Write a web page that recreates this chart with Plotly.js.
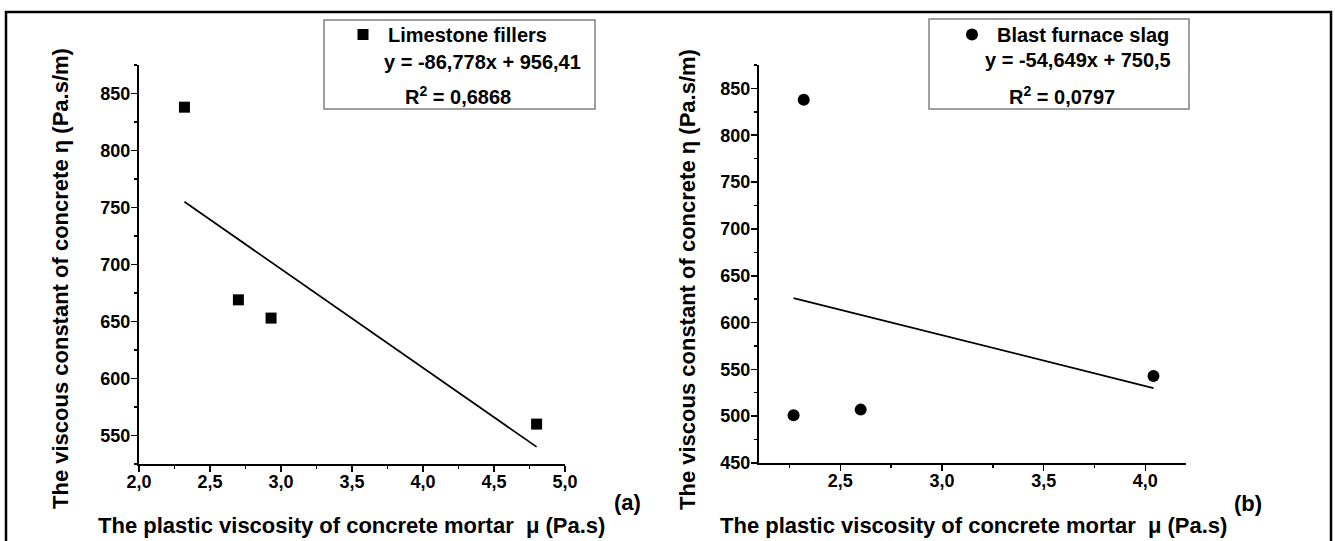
<!DOCTYPE html>
<html>
<head>
<meta charset="utf-8">
<script src="https://cdn.plot.ly/plotly-3.0.1.min.js"></script>
<style>html,body{margin:0;padding:0;background:#fff;}#chart{width:1335px;height:541px;}</style>
</head>
<body>
<div id="chart"></div>
<script>
// ---- data ----
const limeX = [2.32, 2.70, 2.93, 4.80];
const limeY = [838, 669, 653, 560];
const limeFitX = [2.32, 4.80];
const limeFitY = [755, 540];

const slagX = [2.27, 2.32, 2.60, 4.04];
const slagY = [501, 838, 507, 543];
const slagFitX = [2.27, 4.04];
const slagFitY = [626, 530];

// tick values and labels
const xTicksA = [2.0, 2.5, 3.0, 3.5, 4.0, 4.5, 5.0];
const xLabelsA = ['2,0', '2,5', '3,0', '3,5', '4,0', '4,5', '5,0'];
const yTicksA = [550, 600, 650, 700, 750, 800, 850];
const yLabelsA = ['550', '600', '650', '700', '750', '800', '850'];
const xTicksB = [2.5, 3.0, 3.5, 4.0];
const xLabelsB = ['2,5', '3,0', '3,5', '4,0'];
const yTicksB = [450, 500, 550, 600, 650, 700, 750, 800, 850];
const yLabelsB = ['450', '500', '550', '600', '650', '700', '750', '800', '850'];

const limeName = 'Limestone fillers';
const slagName = 'Blast furnace slag';
const limeEq = 'y = -86,778x + 956,41';
const limeR2 = 'R<sup>2</sup> = 0,6868';
const slagEq = 'y = -54,649x + 750,5';
const slagR2 = 'R<sup>2</sup> = 0,0797';
const xTitle = 'The plastic viscosity of concrete mortar  \u03bc (Pa.s)';
const yTitle = 'The viscous constant of concrete \u03b7 (Pa.s/m)';

// ---- layout helpers (pixel -> paper, margins are zero) ----
const W = 1335, H = 541;
const px = v => v / W;
const py = v => 1 - v / H;
const FAM = 'Liberation Sans, Arial, Helvetica, sans-serif';
const fnt = s => ({family: FAM, size: s, color: '#000', weight: 700});

const traces = [
  {x: limeX, y: limeY, type: 'scatter', mode: 'markers', name: limeName,
   marker: {symbol: 'square', size: 11, color: '#000'}, xaxis: 'x', yaxis: 'y', legend: 'legend'},
  {x: limeFitX, y: limeFitY, type: 'scatter', mode: 'lines', showlegend: false,
   line: {color: '#000', width: 1.7}, xaxis: 'x', yaxis: 'y'},
  {x: slagX, y: slagY, type: 'scatter', mode: 'markers', name: slagName,
   marker: {symbol: 'circle', size: 12, color: '#000'}, xaxis: 'x2', yaxis: 'y2', legend: 'legend2'},
  {x: slagFitX, y: slagFitY, type: 'scatter', mode: 'lines', showlegend: false,
   line: {color: '#000', width: 1.7}, xaxis: 'x2', yaxis: 'y2'}
];

function minorCfg(d) { return {dtick: d, ticks: 'outside', ticklen: 3, tickwidth: 1.4, tickcolor: '#000'}; }
function ax(extra) {
  return Object.assign({
    showgrid: false, zeroline: false, showline: true, linecolor: '#000', linewidth: 2,
    ticks: 'outside', ticklen: 6, tickwidth: 1.6, tickcolor: '#000', tickmode: 'array',
    tickfont: fnt(18), mirror: false
  }, extra);
}

const layout = {
  width: W, height: H,
  margin: {l: 0, r: 0, t: 0, b: 0, pad: 0},
  paper_bgcolor: '#fff', plot_bgcolor: 'rgba(0,0,0,0)',
  showlegend: true,
  font: {family: FAM, color: '#000', weight: 700},
  xaxis: ax({domain: [px(139), px(565)], range: [2.0, 5.0], tickvals: xTicksA, ticktext: xLabelsA,
    anchor: 'y', ticklabelstandoff: -6, minor: minorCfg(0.25)}),
  yaxis: ax({domain: [py(464), py(65)], range: [525, 875], tickvals: yTicksA, ticktext: yLabelsA,
    anchor: 'x', ticklabelstandoff: -3, minor: minorCfg(25)}),
  xaxis2: ax({domain: [px(759), px(1186)], range: [2.1, 4.2], tickvals: xTicksB, ticktext: xLabelsB,
    anchor: 'y2', ticklabelstandoff: -6, minor: minorCfg(0.25)}),
  yaxis2: ax({domain: [py(463), py(65)], range: [450, 875], tickvals: yTicksB, ticktext: yLabelsB,
    anchor: 'x2', ticklabelstandoff: -3, minor: minorCfg(25)}),
  legend: {
    x: px(338), y: py(15), xanchor: 'left', yanchor: 'top', itemwidth: 40,
    bgcolor: 'rgba(0,0,0,0)', borderwidth: 0, font: fnt(20)
  },
  legend2: {
    x: px(947), y: py(15), xanchor: 'left', yanchor: 'top', itemwidth: 40,
    bgcolor: 'rgba(0,0,0,0)', borderwidth: 0, font: fnt(20)
  },
  shapes: [
    {type: 'rect', xref: 'paper', yref: 'paper', x0: px(6), x1: px(1331), y0: -0.05, y1: py(12),
     line: {color: '#000', width: 2.5}, fillcolor: 'rgba(0,0,0,0)'},
    {type: 'rect', xref: 'paper', yref: 'paper', x0: px(324), x1: px(595), y0: py(109), y1: py(20),
     line: {color: '#808080', width: 1.5}, fillcolor: 'rgba(0,0,0,0)'},
    {type: 'rect', xref: 'paper', yref: 'paper', x0: px(929), x1: px(1189), y0: py(109), y1: py(19),
     line: {color: '#808080', width: 1.5}, fillcolor: 'rgba(0,0,0,0)'}
  ],
  annotations: [
    {xref: 'paper', yref: 'paper', x: px(382), y: py(62), xanchor: 'left', yanchor: 'middle', showarrow: false,
     text: limeEq, font: fnt(20)},
    {xref: 'paper', yref: 'paper', x: px(403), y: py(95), xanchor: 'left', yanchor: 'middle', showarrow: false,
     text: limeR2, font: fnt(20)},
    {xref: 'paper', yref: 'paper', x: px(983), y: py(60), xanchor: 'left', yanchor: 'middle', showarrow: false,
     text: slagEq, font: fnt(20)},
    {xref: 'paper', yref: 'paper', x: px(1007), y: py(95), xanchor: 'left', yanchor: 'middle', showarrow: false,
     text: slagR2, font: fnt(20)},
    {xref: 'paper', yref: 'paper', x: px(351), y: py(525), xanchor: 'center', yanchor: 'middle', showarrow: false,
     text: xTitle, font: fnt(22)},
    {xref: 'paper', yref: 'paper', x: px(973), y: py(525), xanchor: 'center', yanchor: 'middle', showarrow: false,
     text: xTitle, font: fnt(22)},
    {xref: 'paper', yref: 'paper', x: px(60), y: py(279), xanchor: 'center', yanchor: 'middle', showarrow: false,
     textangle: -90, text: yTitle, font: fnt(22)},
    {xref: 'paper', yref: 'paper', x: px(687), y: py(279), xanchor: 'center', yanchor: 'middle', showarrow: false,
     textangle: -90, text: yTitle, font: fnt(22)},
    {xref: 'paper', yref: 'paper', x: px(627), y: py(502), xanchor: 'center', yanchor: 'middle', showarrow: false,
     text: '(a)', font: fnt(22)},
    {xref: 'paper', yref: 'paper', x: px(1248), y: py(503), xanchor: 'center', yanchor: 'middle', showarrow: false,
     text: '(b)', font: fnt(22)}
  ]
};

Plotly.newPlot('chart', traces, layout, {displayModeBar: false, staticPlot: true});
</script>
</body>
</html>
